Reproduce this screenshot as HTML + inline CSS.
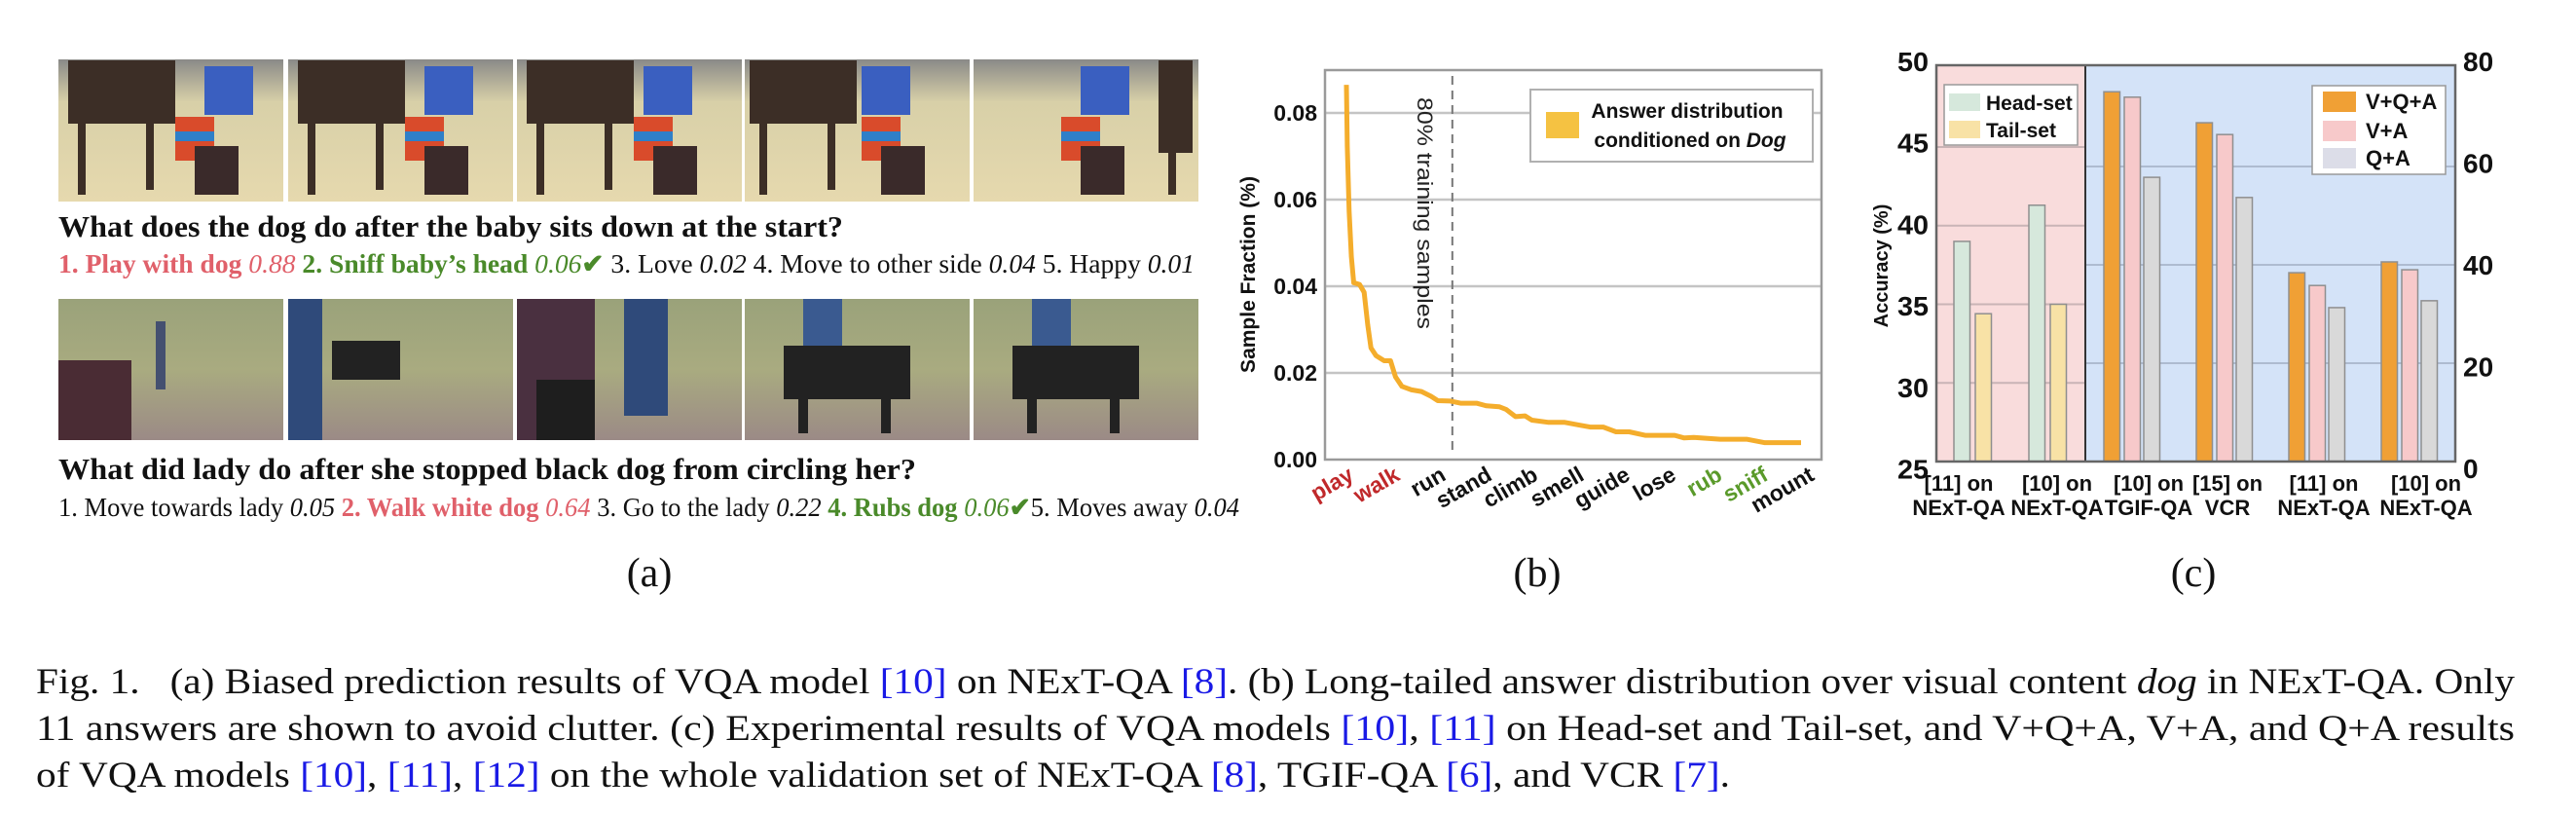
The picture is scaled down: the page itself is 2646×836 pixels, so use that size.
<!DOCTYPE html>
<html><head><meta charset="utf-8">
<style>
html,body{margin:0;padding:0;background:#fff;}
svg{display:block;}
.serif{font-family:"Liberation Serif",serif;}
.sans{font-family:"Liberation Sans",sans-serif;}
</style></head>
<body>
<svg id="fig" width="2646" height="836" viewBox="0 0 2646 836" xmlns="http://www.w3.org/2000/svg">
<defs>
<linearGradient id="floor1" x1="0" y1="0" x2="0" y2="1"><stop offset="0" stop-color="#8a8a88"/><stop offset="0.3" stop-color="#d8d0a8"/><stop offset="1" stop-color="#e6d9ae"/></linearGradient>
<linearGradient id="park" x1="0" y1="0" x2="0" y2="1"><stop offset="0" stop-color="#9aa27a"/><stop offset="0.5" stop-color="#a9ab80"/><stop offset="1" stop-color="#9b8a86"/></linearGradient>
</defs>
<g id="panel-a"></g>
<g id="chart-b"></g>
<g id="chart-c"></g>
<g class="serif" font-size="42" fill="#111" text-anchor="middle">
<text x="667" y="602">(a)</text>
<text x="1579" y="602">(b)</text>
<text x="2253" y="602">(c)</text>
</g>
<g class="serif" font-size="37" fill="#111">
<text x="37" y="712" textLength="2546" lengthAdjust="spacingAndGlyphs">Fig. 1.&#160;&#160;&#160;(a) Biased prediction results of VQA model <tspan fill="#1a1ae6">[10]</tspan> on NExT-QA <tspan fill="#1a1ae6">[8]</tspan>. (b) Long-tailed answer distribution over visual content <tspan font-style="italic">dog</tspan> in NExT-QA. Only</text>
<text x="37" y="760" textLength="2546" lengthAdjust="spacingAndGlyphs">11 answers are shown to avoid clutter. (c) Experimental results of VQA models <tspan fill="#1a1ae6">[10]</tspan>, <tspan fill="#1a1ae6">[11]</tspan> on Head-set and Tail-set, and V+Q+A, V+A, and Q+A results</text>
<text x="37" y="808" textLength="1740" lengthAdjust="spacingAndGlyphs">of VQA models <tspan fill="#1a1ae6">[10]</tspan>, <tspan fill="#1a1ae6">[11]</tspan>, <tspan fill="#1a1ae6">[12]</tspan> on the whole validation set of NExT-QA <tspan fill="#1a1ae6">[8]</tspan>, TGIF-QA <tspan fill="#1a1ae6">[6]</tspan>, and VCR <tspan fill="#1a1ae6">[7]</tspan>.</text>
</g>
</svg>
<script>
// ---------- Chart (b) data ----------
const answerLabels = ['play','walk','run','stand','climb','smell','guide','lose','rub','sniff','mount'];
const answerLabelColors = ['#c0282a','#c0282a','#111','#111','#111','#111','#111','#111','#5a9a2a','#5a9a2a','#111'];
const rankPct = [0,0.2,0.6,1.1,1.6,2.9,3.9,4.7,5.4,6.5,8.3,9.7,10.8,12.2,14.3,16.5,18.6,20.1,22.9,25.1,28.6,30.8,33.6,35.1,37.2,39.3,40.8,44.3,47.9,51.5,53.6,56.5,59.3,62.2,65.7,72.2,74.3,76.4,82.2,88.0,91.9,100];
const sampleFraction = [0.0865,0.0723,0.0573,0.0468,0.0408,0.0404,0.0386,0.0311,0.0258,0.0240,0.0228,0.0228,0.0191,0.0169,0.0161,0.0157,0.0146,0.0136,0.0135,0.0130,0.0130,0.0124,0.0122,0.0116,0.0099,0.0101,0.0091,0.0086,0.0086,0.0079,0.0075,0.0075,0.0064,0.0064,0.0056,0.0056,0.0050,0.0051,0.0047,0.0047,0.0039,0.0039];
const bTicks = [0,0.02,0.04,0.06,0.08];
const bTickLabels = ['0.00','0.02','0.04','0.06','0.08'];
const trainingCutRank = 23.3;

// ---------- Chart (c) data ----------
const leftCats = [['[11] on','NExT-QA'],['[10] on','NExT-QA']];
const headSet = [39.0, 41.3];
const tailSet = [34.4, 35.0];
const rightCats = [['[10] on','TGIF-QA'],['[15] on','VCR'],['[11] on','NExT-QA'],['[10] on','NExT-QA']];
const vqa = [75.2, 68.9, 38.4, 40.6];
const va = [74.1, 66.5, 35.8, 39.0];
const qa = [57.8, 53.7, 31.3, 32.7];
const leftTicks = [25,30,35,40,45,50];
const rightTicks = [0,20,40,60,80];

const NS='http://www.w3.org/2000/svg';
function mk(tag, attrs, parent, text){
  const e=document.createElementNS(NS,tag);
  for(const k in attrs) e.setAttribute(k,attrs[k]);
  if(text!==undefined) e.textContent=text;
  parent.appendChild(e); return e;
}

// ---------- Panel (a) ----------
(function(){
  const g=document.getElementById('panel-a');
  const xs=[60,296,531,765,1000];
  xs.forEach((x,i)=>{
    const im=mk('g',{},g);
    
    
    mk('rect',{x:x,y:61,width:231,height:146,fill:'url(#floor1)'},im);
    mk('rect',{x:x+150-i*10,y:68,width:50,height:50,fill:'#3a5fc0'},im);
    const dx = i<3? x+10 : (i===3? x+5 : x+190);
    mk('rect',{x:dx,y:62,width:i===4?35:110,height:i===4?95:65,fill:'#3c2e26'},im);
    mk('rect',{x:dx+10,y:120,width:8,height:80,fill:'#3c2e26'},im);
    if(i<4) mk('rect',{x:dx+80,y:120,width:8,height:75,fill:'#3c2e26'},im);
    const cx = x+120 + (i===4?-30:0);
    mk('rect',{x:cx,y:120,width:40,height:45,fill:'#d94b2b'},im);
    mk('rect',{x:cx,y:135,width:40,height:10,fill:'#2f7fc8'},im);
    mk('rect',{x:cx+20,y:150,width:45,height:50,fill:'#3a2a2a'},im);
  });
  xs.forEach((x,i)=>{
    const im=mk('g',{},g);
    
    
    mk('rect',{x:x,y:307,width:231,height:145,fill:'url(#park)'},im);
    if(i===0){ mk('rect',{x:x,y:370,width:75,height:82,fill:'#4a2c34'},im); mk('rect',{x:x+100,y:330,width:10,height:70,fill:'#445070'},im);}
    if(i===1){ mk('rect',{x:x,y:307,width:35,height:145,fill:'#2f4a7a'},im); mk('rect',{x:x+45,y:350,width:70,height:40,fill:'#222'},im);}
    if(i===2){ mk('rect',{x:x,y:307,width:80,height:145,fill:'#4a3040'},im); mk('rect',{x:x+110,y:307,width:45,height:120,fill:'#2f4a7a'},im); mk('rect',{x:x+20,y:390,width:60,height:62,fill:'#1e1e1e'},im);}
    if(i>=3){ mk('rect',{x:x+60,y:307,width:40,height:60,fill:'#3a5a90'},im); mk('rect',{x:x+40,y:355,width:130,height:55,fill:'#222'},im); mk('rect',{x:x+55,y:405,width:10,height:40,fill:'#222'},im); mk('rect',{x:x+140,y:405,width:10,height:40,fill:'#222'},im);}
  });
  const q1=mk('text',{x:60,y:243,'font-size':31,'font-weight':'bold',fill:'#111',class:'serif',textLength:806,lengthAdjust:'spacingAndGlyphs'},g,'What does the dog do after the baby sits down at the start?');
  
  
  const a1=mk('text',{x:60,y:280,'font-size':27,fill:'#111',class:'serif',textLength:1167,lengthAdjust:'spacingAndGlyphs'},g);
  
  
  a1.innerHTML='<tspan fill="#e0606a" font-weight="bold">1. Play with dog </tspan><tspan fill="#e0606a" font-style="italic">0.88</tspan>  <tspan fill="#4a8a2a" font-weight="bold">2. Sniff baby’s head </tspan><tspan fill="#4a8a2a" font-style="italic">0.06</tspan><tspan fill="#4a8a2a" font-weight="bold">✔</tspan>  3. Love <tspan font-style="italic">0.02</tspan>  4. Move to other side <tspan font-style="italic">0.04</tspan>  5. Happy <tspan font-style="italic">0.01</tspan>';
  const q2=mk('text',{x:60,y:492,'font-size':31,'font-weight':'bold',fill:'#111',class:'serif',textLength:881,lengthAdjust:'spacingAndGlyphs'},g,'What did lady do after she stopped black dog from circling her?');
  
  
  const a2=mk('text',{x:60,y:530,'font-size':27,fill:'#111',class:'serif',textLength:1213,lengthAdjust:'spacingAndGlyphs'},g);
  
  
  a2.innerHTML='1. Move towards lady <tspan font-style="italic">0.05</tspan> <tspan fill="#e0606a" font-weight="bold">2. Walk white dog </tspan><tspan fill="#e0606a" font-style="italic">0.64</tspan> 3. Go to the lady <tspan font-style="italic">0.22</tspan> <tspan fill="#4a8a2a" font-weight="bold">4. Rubs dog </tspan><tspan fill="#4a8a2a" font-style="italic">0.06</tspan><tspan fill="#4a8a2a" font-weight="bold">✔</tspan>5. Moves away <tspan font-style="italic">0.04</tspan>';
})();

// ---------- Chart (b) ----------
(function(){
  const g=document.getElementById('chart-b');
  const L=1361,R=1871,T=72,B=472;
  const x0=1383,x1=1850;
  const xScale=r=>x0+(x1-x0)*r/100;
  const yScale=v=>B-(B-116)*v/0.08;
  bTicks.forEach((t,i)=>{
    if(t>0){ const gl=mk('line',{x1:L,x2:R,y1:yScale(t),y2:yScale(t),stroke:'#c4c4c4','stroke-width':2.5},g);
      
       }
    const tl=mk('text',{x:L-8,y:yScale(t)+8,'text-anchor':'end','font-size':23,'font-weight':'bold',class:'sans',fill:'#111'},g,bTickLabels[i]);
    
    
  });
  const frame=mk('rect',{x:L,y:T,width:R-L,height:B-T,fill:'none',stroke:'#9a9a9a','stroke-width':2.5},g);
  
  
  const dl=mk('line',{x1:xScale(trainingCutRank),x2:xScale(trainingCutRank),y1:78,y2:465,stroke:'#777','stroke-width':2,'stroke-dasharray':'9,6'},g);
  
  
  const dt=mk('text',{x:0,y:0,'font-size':22,class:'sans',fill:'#222',transform:`translate(${xScale(trainingCutRank)-36},100) rotate(90)`,textLength:238,lengthAdjust:'spacingAndGlyphs'},g,'80% training samples');
  
  
  const d=rankPct.map((r,i)=>(i?'L':'M')+xScale(r).toFixed(1)+','+yScale(sampleFraction[i]).toFixed(1)).join(' ');
  const line=mk('path',{d:d,fill:'none',stroke:'#f4ad2c','stroke-width':5,'stroke-linejoin':'round'},g);
  
  
  const lg=mk('g',{},g);
  
  
  mk('rect',{x:1572,y:92,width:290,height:74,fill:'#fff',stroke:'#b0b0b0','stroke-width':2},lg);
  mk('rect',{x:1588,y:115,width:34,height:27,fill:'#f5c242'},lg);
  mk('text',{x:1733,y:121,'text-anchor':'middle','font-size':21,'font-weight':'bold',class:'sans',fill:'#111'},lg,'Answer distribution');
  const l2=mk('text',{x:1736,y:151,'text-anchor':'middle','font-size':21,'font-weight':'bold',class:'sans',fill:'#111'},lg);
  l2.innerHTML='conditioned on <tspan font-style="italic">Dog</tspan>';
  const yt=mk('text',{x:0,y:0,'text-anchor':'middle','font-size':21,'font-weight':'bold',class:'sans',fill:'#111',transform:'translate(1289,282) rotate(-90)'},g,'Sample Fraction (%)');
  
  
  answerLabels.forEach((a,i)=>{
    const ex=1392+i*(1865-1392)/(answerLabels.length-1);
    const t=mk('text',{x:0,y:0,'text-anchor':'end','font-size':23,'font-weight':'bold',class:'sans',fill:answerLabelColors[i],transform:`translate(${ex},492) rotate(-30)`},g,a);
    
    
  });
})();

// ---------- Chart (c) ----------
(function(){
  const g=document.getElementById('chart-c');
  const L=1989,R=2522,T=67,B=474,D=2142;
  const yL=v=>B-(v-25)*16.15;
  const yR=v=>B-v*5.05;
  const bg1=mk('rect',{x:L,y:T,width:D-L,height:B-T,fill:'#f9dcdc'},g);
  
  
  const bg2=mk('rect',{x:D,y:T,width:R-D,height:B-T,fill:'#d4e3f8'},g);
  
  
  leftTicks.forEach(t=>{
    if(t>25&&t<50){ const gl=mk('line',{x1:L,x2:D,y1:yL(t),y2:yL(t),stroke:'#c9b4b6','stroke-width':2},g);
      
       }
    const tl=mk('text',{x:1981,y:yL(t)+10+(37.5-t)*0.6,'text-anchor':'end','font-size':28,'font-weight':'bold',class:'sans',fill:'#111',textLength:32,lengthAdjust:'spacingAndGlyphs'},g,String(t));
    
    
  });
  rightTicks.forEach(t=>{
    if(t>0&&t<80){ const gl=mk('line',{x1:D,x2:R,y1:yR(t),y2:yR(t),stroke:'#aebbd0','stroke-width':2},g);
      
       }
    const tl=mk('text',{x:2530,y:yR(t)+10+(40-t)*0.18,'text-anchor':'start','font-size':28,'font-weight':'bold',class:'sans',fill:'#111'},g,String(t));
    
    
  });
  const bar=(x,w,y,col,name)=>{
    const r=mk('rect',{x:x,y:y,width:w,height:B-y,fill:col,stroke:'#8f8f8f','stroke-width':1.5},g);
    
    
  };
  const lc=[2026,2103], bw=16.5;
  leftCats.forEach((c,i)=>{
    bar(lc[0]+i*77-19,bw,yL(headSet[i]),'#d6e8dc','bar-head-set-'+(i+1));
    bar(lc[0]+i*77+3,bw,yL(tailSet[i]),'#f8e2a6','bar-tail-set-'+(i+1));
  });
  const rc0=2190, rstep=95;
  rightCats.forEach((c,i)=>{
    const cx=rc0+i*rstep;
    bar(cx-29,bw,yR(vqa[i]),'#f0a035','bar-vqa-'+(i+1));
    bar(cx-8,bw,yR(va[i]),'#f7c9ca','bar-va-'+(i+1));
    bar(cx+12,bw,yR(qa[i]),'#d9d9d9','bar-qa-'+(i+1));
  });
  const dv=mk('line',{x1:D,x2:D,y1:T,y2:B,stroke:'#333','stroke-width':2},g);
  
  
  const fr=mk('rect',{x:L,y:T,width:R-L,height:B-T,fill:'none',stroke:'#666','stroke-width':2.5},g);
  
  
  const labelXs=[2012,2113,2207,2288,2387,2492];
  leftCats.concat(rightCats).forEach((c,i)=>{
    const t=mk('text',{x:labelXs[i],y:504,'text-anchor':'middle','font-size':22,'font-weight':'bold',class:'sans',fill:'#111'},g,c[0]);
    
    
    const t2=mk('text',{x:labelXs[i],y:529,'text-anchor':'middle','font-size':22,'font-weight':'bold',class:'sans',fill:'#111'},g,c[1]);
    
    
  });
  const yt=mk('text',{x:0,y:0,'text-anchor':'middle','font-size':20,'font-weight':'bold',class:'sans',fill:'#111',transform:'translate(1939,273) rotate(-90)'},g,'Accuracy (%)');
  
  
  const lg1=mk('g',{},g);
  
  
  mk('rect',{x:1997,y:87,width:137,height:62,fill:'#fff',stroke:'#999','stroke-width':1.5},lg1);
  mk('rect',{x:2002,y:96,width:32,height:18,fill:'#d6e8dc'},lg1);
  mk('rect',{x:2002,y:124,width:32,height:18,fill:'#f8e2a6'},lg1);
  mk('text',{x:2040,y:113,'font-size':21,'font-weight':'bold',class:'sans',fill:'#111'},lg1,'Head-set');
  mk('text',{x:2040,y:141,'font-size':21,'font-weight':'bold',class:'sans',fill:'#111'},lg1,'Tail-set');
  const lg2=mk('g',{},g);
  
  
  mk('rect',{x:2375,y:88,width:137,height:91,fill:'#fff',stroke:'#999','stroke-width':1.5},lg2);
  [['#f0a035','V+Q+A',104],['#f7c9ca','V+A',134],['#dcdde8','Q+A',162]].forEach(e=>{
    mk('rect',{x:2386,y:e[2]-10,width:34,height:21,fill:e[0]},lg2);
    mk('text',{x:2430,y:e[2]+8,'font-size':22,'font-weight':'bold',class:'sans',fill:'#111'},lg2,e[1]);
  });
})();
</script>
</body></html>
